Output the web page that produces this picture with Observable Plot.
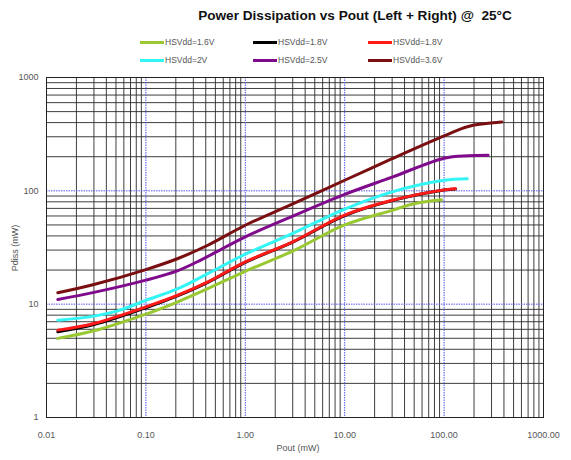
<!DOCTYPE html>
<html>
<head>
<meta charset="utf-8">
<script src="https://cdn.jsdelivr.net/npm/d3@7"></script>
<script src="https://cdn.jsdelivr.net/npm/@observablehq/plot@0.6"></script>
<style>
  html, body { margin: 0; padding: 0; background: #fff; }
  #wrap { position: relative; width: 571px; height: 460px; overflow: hidden; font-family: "Liberation Sans", Arial, sans-serif; }
  #chart { position: absolute; left: 0; top: 0; }
  #title { position: absolute; left: 155px; width: 400px; top: 8px; text-align: center; font-weight: bold; font-size: 13.6px; color: #111; }
  .leg { position: absolute; font-size: 8.5px; color: #555; display: flex; align-items: center; white-space: nowrap; }
  .leg .sw { display: inline-block; width: 24px; height: 3px; margin-right: 1px; }
  #xlabel { position: absolute; left: 298px; top: 448px; font-size: 9px; color: #555; transform: translate(-50%, -50%); white-space: nowrap; }
  #ylabel { position: absolute; left: 15px; top: 248px; font-size: 9px; color: #555; transform: translate(-50%, -50%) rotate(-90deg); white-space: nowrap; }
</style>
</head>
<body>
<div id="wrap">
  <div id="chart"></div>
  <div id="title">Power Dissipation vs Pout (Left + Right) @&nbsp; 25°C</div>
  <div id="legend"></div>
  <div id="xlabel">Pout (mW)</div>
  <div id="ylabel">Pdiss (mW)</div>
</div>
<script>
// ---- Data ----
const xTicks = [0.01, 0.1, 1, 10, 100, 1000];
const yTicks = [1, 10, 100, 1000];
const xTickLabels = ["0.01", "0.10", "1.00", "10.00", "100.00", "1000.00"];
const yTickLabels = ["1", "10", "100", "1000"];
const blueX = [0.1, 1, 10, 100];
const blueY = [10, 100];

const seriesNames = ["HSVdd=1.6V", "HSVdd=1.8V", "HSVdd=1.8V", "HSVdd=2V", "HSVdd=2.5V", "HSVdd=3.6V"];
const seriesColors = ["#9ac832", "#000000", "#ff1a1a", "#33f5f5", "#800a8c", "#7a0f12"];

const x16 = [0.013, 0.03, 0.1, 0.21, 0.42, 1, 3, 10, 30, 50, 94];
const y16 = [4.99, 5.82, 8.17, 10.5, 13.7, 19.5, 29.4, 50, 67.3, 77, 83.6];

const x18b = [0.013, 0.03, 0.1, 0.21, 0.42, 1, 3, 10, 30, 100, 130];
const y18b = [5.7, 6.6, 9.3, 11.9, 15.6, 23.4, 35.3, 60.5, 82, 101.5, 104];

const x18r = [0.013, 0.03, 0.1, 0.21, 0.42, 1, 3, 10, 30, 100, 130];
const y18r = [5.9, 6.76, 9.47, 12.0, 15.7, 23.6, 35.5, 61, 82.5, 102, 104.5];

const x20 = [0.013, 0.03, 0.052, 0.1, 0.21, 0.42, 1, 3, 10, 30, 100, 171];
const y20 = [7.23, 7.84, 8.73, 10.8, 13.7, 18.6, 27.6, 42.1, 69, 98, 124, 128];

const x25 = [0.013, 0.03, 0.1, 0.21, 0.36, 0.5, 1, 3, 10, 30, 100, 175, 277];
const y25 = [11.0, 12.7, 16.3, 19.8, 24.6, 28.6, 39.3, 59.8, 93, 132, 194, 204, 206];

const x36 = [0.013, 0.03, 0.1, 0.21, 0.42, 1, 3, 10, 30, 100, 175, 380];
const y36 = [12.6, 14.9, 20.2, 25.3, 33.1, 49.7, 76.7, 124, 192, 305, 370, 404];

const seriesX = [x16, x18b, x18r, x20, x25, x36];
const seriesY = [y16, y18b, y18r, y20, y25, y36];

// ---- Build tables ----
const series = seriesNames.map((name, i) => ({
  name, color: seriesColors[i],
  points: seriesX[i].map((x, j) => ({x, y: seriesY[i][j]}))
}));

const minorX = [];
for (const d of xTicks.slice(0, -1)) for (let k = 2; k <= 9; k++) minorX.push(d * k);
const minorY = [];
for (const d of yTicks.slice(0, -1)) for (let k = 2; k <= 9; k++) minorY.push(d * k);

const xLab = new Map(xTicks.map((t, i) => [t, xTickLabels[i]]));
const yLab = new Map(yTicks.map((t, i) => [t, yTickLabels[i]]));

const chart = Plot.plot({
  width: 571,
  height: 460,
  marginTop: 77,
  marginBottom: 43,
  marginLeft: 46,
  marginRight: 28,
  style: { fontFamily: "Liberation Sans, Arial, sans-serif", fontSize: "9px", color: "#555", background: "transparent" },
  x: { type: "log", domain: [0.01, 1000] },
  y: { type: "log", domain: [1, 1000] },
  marks: [
    Plot.ruleX(minorX, { stroke: "#2a2a2a", strokeWidth: 1, strokeOpacity: 0.9 }),
    Plot.ruleY(minorY, { stroke: "#2a2a2a", strokeWidth: 1, strokeOpacity: 0.9 }),
    Plot.ruleX(blueX, { stroke: "#5555ee", strokeWidth: 1, strokeDasharray: "1.5,1" }),
    Plot.ruleY(blueY, { stroke: "#5555ee", strokeWidth: 1, strokeDasharray: "1.5,1" }),
    Plot.frame({ stroke: "#222", strokeWidth: 1 }),
    Plot.axisX(xTicks, { tickSize: 0, tickPadding: 14, tickFormat: d => xLab.get(d), label: null }),
    Plot.axisY(yTicks, { tickSize: 0, tickPadding: 8, tickFormat: d => yLab.get(d), label: null }),
    ...series.map(s => Plot.line(s.points, {
      x: "x", y: "y", stroke: s.color, strokeWidth: 3, curve: "catmull-rom"
    }))
  ]
});
document.getElementById("chart").appendChild(chart);

// ---- Legend ----
const legPos = [[140, 37], [253, 37], [368, 37], [140, 55], [253, 55], [368, 55]];
const legOrder = [0, 1, 2, 3, 4, 5];
const legend = document.getElementById("legend");
legOrder.forEach((i, k) => {
  const el = document.createElement("div");
  el.className = "leg";
  el.style.left = legPos[k][0] + "px";
  el.style.top = legPos[k][1] + "px";
  el.innerHTML = `<span class="sw" style="background:${seriesColors[i]}"></span>${seriesNames[i]}`;
  legend.appendChild(el);
});
</script>
</body>
</html>
